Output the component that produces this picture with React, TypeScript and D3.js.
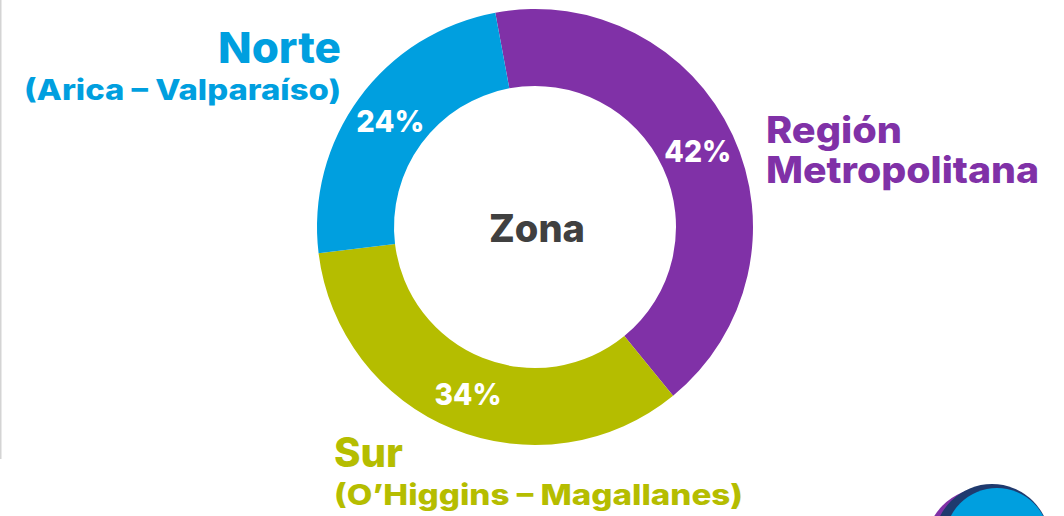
import React from "react";
import * as d3 from "d3";

const zones = ["Región Metropolitana", "Sur", "Norte"];
const shares = [42, 34, 24];
const colors = ["#8031A7", "#B5BD00", "#009FDF"];
const centerTitle = "Zona";

const W = 1064;
const H = 516;
const CX = 535;
const CY = 227;
const R_OUT = 218;
const R_IN = 141;
const START_DEG = -10.5;

const FONT = "Inter, 'Open Sans', sans-serif";

export default function App() {
  const pie = d3
    .pie<number>()
    .sort(null)
    .value((d) => d)
    .startAngle((START_DEG * Math.PI) / 180)
    .endAngle((START_DEG * Math.PI) / 180 + 2 * Math.PI);
  const arcs = pie(shares);
  const arc = d3.arc<d3.PieArcDatum<number>>().innerRadius(R_IN).outerRadius(R_OUT);
  const pctWidths = [67, 67, 68];

  return (
    <svg
      width={W}
      height={H}
      style={{ position: "absolute", left: 0, top: 0, background: "#fff" }}
      fontFamily={FONT}
      fontWeight={800}
    >
      <rect x={0} y={0} width={W} height={H} fill="#fff" />
      <line x1={0.75} y1={0} x2={0.75} y2={459} stroke="#d4d4d4" strokeWidth={1.5} />

      <g transform={`translate(${CX},${CY})`}>
        {arcs.map((a, i) => (
          <path key={zones[i]} d={arc(a) || ""} fill={colors[i]} />
        ))}
        {arcs.map((a, i) => {
          const [x, y] = arc.centroid(a);
          return (
            <text
              key={"p" + i}
              x={x}
              y={y + 11}
              textAnchor="middle"
              fill="#fff"
              fontSize={30.5}
              textLength={pctWidths[i]}
              lengthAdjust="spacingAndGlyphs"
            >
              {shares[i]}%
            </text>
          );
        })}
        <text
          x={2}
          y={14.7}
          textAnchor="middle"
          fill="#404040"
          fontSize={38.5}
          textLength={96}
          lengthAdjust="spacingAndGlyphs"
        >
          {centerTitle}
        </text>
      </g>

      {/* Norte */}
      <text x={218} y={63} fill={colors[2]} fontSize={43} textLength={123} lengthAdjust="spacingAndGlyphs">
        Norte
      </text>
      <text x={24} y={100} fill={colors[2]} fontSize={28} textLength={317} lengthAdjust="spacingAndGlyphs">
        (Arica – Valparaíso)
      </text>

      {/* Región Metropolitana */}
      <text x={766} y={142.5} fill={colors[0]} fontSize={36.5} textLength={136} lengthAdjust="spacingAndGlyphs">
        Región
      </text>
      <text x={766} y={182.7} fill={colors[0]} fontSize={36.5} textLength={273} lengthAdjust="spacingAndGlyphs">
        Metropolitana
      </text>

      {/* Sur */}
      <text x={334} y={466.5} fill={colors[1]} fontSize={40.5} textLength={69} lengthAdjust="spacingAndGlyphs">
        Sur
      </text>
      <text x={334} y={505} fill={colors[1]} fontSize={28.5} textLength={409} lengthAdjust="spacingAndGlyphs">
        (O’Higgins – Magallanes)
      </text>

      {/* partial logo at bottom right */}
      <g>
        <circle cx={985} cy={548} r={60} fill="#8031A7" />
        <circle cx={992} cy={542} r={58} fill="#1F3A6E" />
        <circle cx={997} cy={540} r={52} fill="#009FDF" />
      </g>
    </svg>
  );
}
